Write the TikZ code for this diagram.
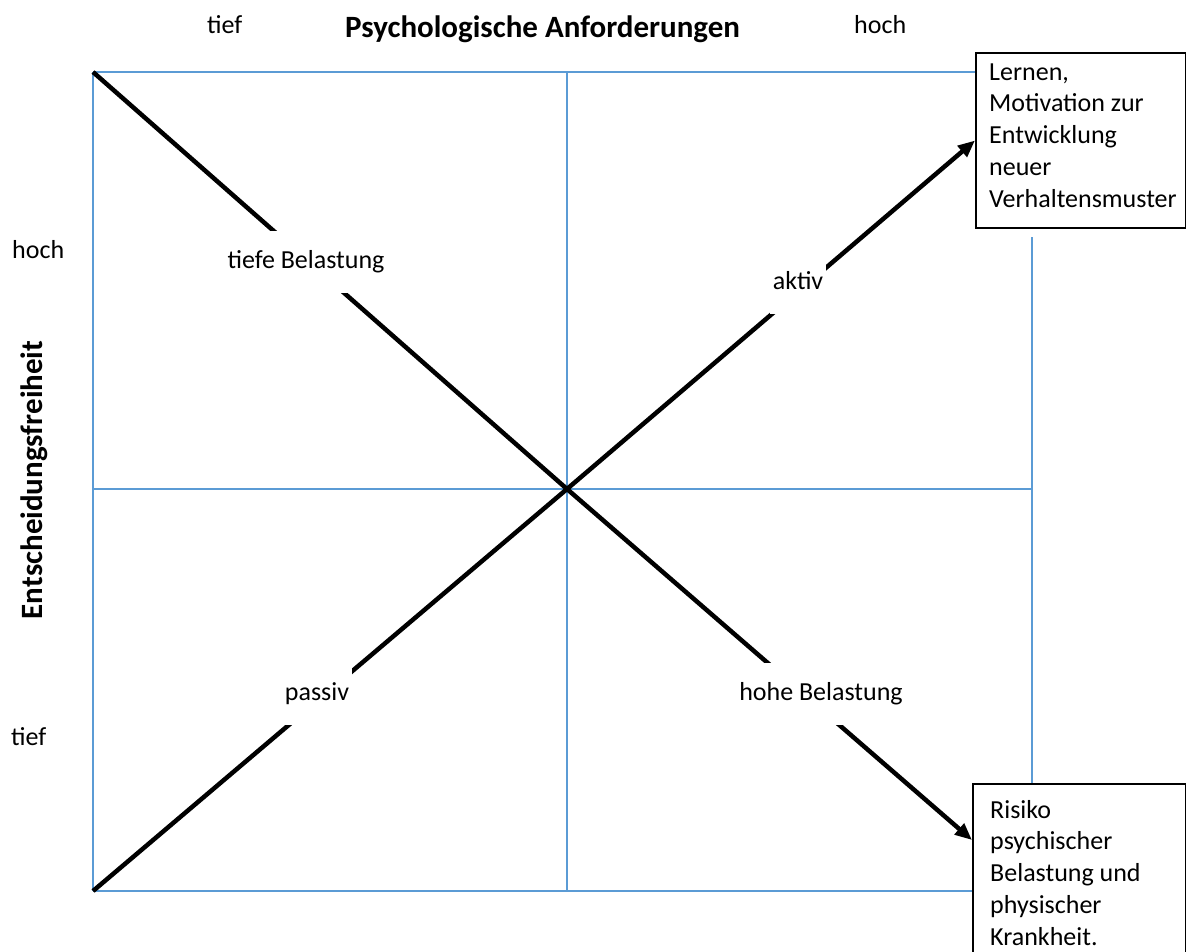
\documentclass[tikz,border=0pt]{standalone}
\usepackage{fontspec}
\setmainfont{Carlito}
\usetikzlibrary{arrows.meta,calc}
\definecolor{gridblue}{HTML}{5B9BD5}
\begin{document}
\begin{tikzpicture}[x=1pt,y=-1pt,
  every node/.style={font=\fontsize{26}{31.75}\selectfont, inner sep=0pt},
  gridline/.style={draw=gridblue, line width=2pt},
  diag/.style={draw=black, line width=4.5pt},
  tip/.style={-{Triangle[length=17pt,width=14pt]}},
  lbl/.style={fill=white, minimum height=62pt, inner xsep=3pt, text height=19pt, text depth=6pt},
  boxstyle/.style={draw=black, line width=2pt, fill=white},
  boxtext/.style={align=left, anchor=base west},
  axis/.style={font=\fontsize{31}{36}\selectfont\bfseries}]
\useasboundingbox (0,0) rectangle (1186,951);
\clip (0,0) rectangle (1186,951);

% grid coordinates
\coordinate (tl) at (93,72);
\coordinate (tm) at (567,72);
\coordinate (tr) at (975,72);
\coordinate (bl) at (93,891);
\coordinate (bm) at (567,891);
\coordinate (br) at (972,891);
\coordinate (ml) at (93,489);
\coordinate (c) at (567,489);
\coordinate (mr) at (1032,489);
\coordinate (rt) at (1032,237);
\coordinate (rb) at (1032,783);

% grid lines
\draw[gridline] (tl) -- (tr);
\draw[gridline] (bl) -- (br);
\draw[gridline] (tl) -- (bl);
\draw[gridline] (tm) -- (bm);
\draw[gridline] (ml) -- (mr);
\draw[gridline] (rt) -- (rb);

% boxes
\node[boxstyle, anchor=north west, minimum width=210pt, minimum height=175pt] (topbox) at (975,52) {};
\node[boxstyle, anchor=north west, minimum width=213pt, minimum height=220pt] (botbox) at (972,783) {};
\coordinate (bottip) at ($(botbox.north west)+(0,57)$);

% multi-line nodes: base anchor is the baseline of the last line
\node[boxtext] (toptext) at (989,207) {Lernen,\\Motivation zur\\Entwicklung\\neuer\\Verhaltensmuster};
\node[boxtext] (bottext) at (990,945) {Risiko\\psychischer\\Belastung und\\physischer\\Krankheit.};

% diagonals
\draw[diag] (tl) -- (c);
\draw[diag, tip] (c) -- (bottip);
\draw[diag] (bl) -- (c);
\draw[diag, tip] (c) -- (topbox.west);

% quadrant labels
\node[lbl] (tiefeB) at (306,261.5) {tiefe Belastung};
\node[lbl] (aktiv) at (798,282.5) {aktiv};
\node[lbl] (passiv) at (317,693.5) {passiv};
\node[lbl] (hoheB) at (821,693.5) {hohe Belastung};

% axis labels
\node[anchor=base west] (ttief) at (207,33) {tief};
\node[anchor=base west] (thoch) at (854,33) {hoch};
\node[axis, anchor=base west] (xtitle) at (345,37) {Psychologische Anforderungen};
\node[anchor=base west] (lhoch) at (12,258) {hoch};
\node[anchor=base west] (ltief) at (11,745) {tief};
\node[axis, rotate=90] (ytitle) at (34,480) {Entscheidungsfreiheit};
\end{tikzpicture}
\end{document}
